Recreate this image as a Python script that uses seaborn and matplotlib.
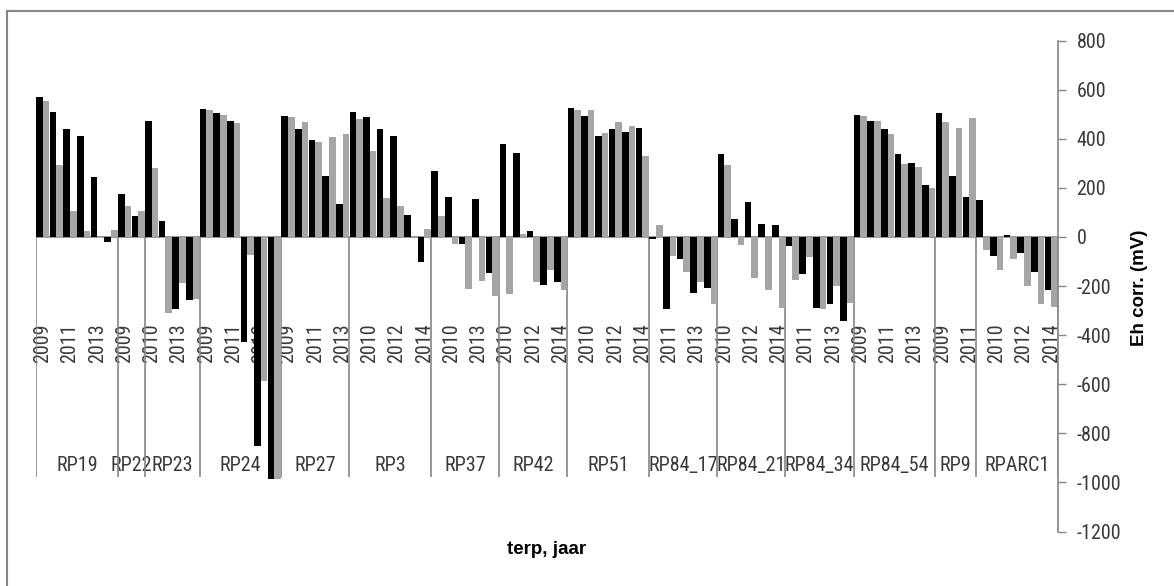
import numpy as np
import pandas as pd
import matplotlib
matplotlib.use("Agg")
import matplotlib.pyplot as plt
from matplotlib import font_manager
from matplotlib.patches import Rectangle
import seaborn as sns

# ---------------- data ----------------
cat_group = (["RP19"] * 6 + ["RP22"] * 2 + ["RP23"] * 4 + ["RP24"] * 6 + ["RP27"] * 5 +
             ["RP3"] * 6 + ["RP37"] * 5 + ["RP42"] * 5 + ["RP51"] * 6 + ["RP84_17"] * 5 +
             ["RP84_21"] * 5 + ["RP84_34"] * 5 + ["RP84_54"] * 6 + ["RP9"] * 3 + ["RPARC1"] * 6)

cat_year = [2009, 2010, 2011, 2012, 2013, 2014,
            2009, 2010,
            2010, 2012, 2013, 2014,
            2009, 2010, 2011, 2012, 2013, 2014,
            2009, 2010, 2011, 2012, 2013,
            2009, 2010, 2011, 2012, 2013, 2014,
            2009, 2010, 2012, 2013, 2014,
            2010, 2011, 2012, 2013, 2014,
            2009, 2010, 2011, 2012, 2013, 2014,
            2010, 2011, 2012, 2013, 2014,
            2010, 2011, 2012, 2013, 2014,
            2010, 2011, 2012, 2013, 2014,
            2009, 2010, 2011, 2012, 2013, 2014,
            2009, 2010, 2011,
            2009, 2010, 2011, 2012, 2013, 2014]

eh_black = [570, 509, 440, 410, 244, -22,
            175, 84,
            471, 63, -293, -255,
            519, 504, 474, -429, -852, -985,
            494, 438, 394, 249, 135,
            509, 489, 438, 410, 91, -102,
            267, 164, -30, 153, -147,
            379, 343, 23, -197, -185,
            526, 494, 410, 438, 427, 442,
            -7, -293, -92, -228, -207,
            336, 74, 143, 54, 49,
            -38, -153, -289, -273, -341,
            498, 472, 438, 336, 300, 211,
            505, 249, 164,
            150, -78, 8, -64, -145, -218]

eh_gray = [555, 291, 107, 23, -5, 29,
           125, 107,
           281, -310, -187, -252,
           515, 498, 463, -72, -588, -985,
           487, 468, 388, 405, 421,
           481, 349, 160, 124, np.nan, 34,
           87, -27, -211, -179, -242,
           -231, 12, -185, -133, -215,
           515, 515, 425, 468, 450, 329,
           50, -76, -144, -185, -275,
           291, -34, -169, -217, -289,
           -174, -81, -293, -201, -269,
           493, 472, 421, 295, 286, 201,
           467, 442, 483,
           -54, -134, -89, -201, -273, -284]

y_ticks = [800, 600, 400, 200, 0, -200, -400, -600, -800, -1000, -1200]
y_tick_labels = ["800", "600", "400", "200", "0", "-200", "-400", "-600", "-800", "-1000", "-1200"]
series_names = ["zwart", "grijs"]
series_colors = ["#000000", "#A6A6A6"]

# ---------------- style ----------------
sns.set_style("white")
available = {f.name for f in font_manager.fontManager.ttflist}
narrow = "DejaVu Sans"
for cand in ["Liberation Sans Narrow", "Roboto Condensed", "Open Sans Condensed"]:
    if cand in available:
        narrow = cand
        break
plt.rcParams["font.family"] = [narrow, "DejaVu Sans"]
bold_family = ["Liberation Sans", "DejaVu Sans"]
grey_line = "#868686"
text_col = "#3a3a3a"

keys = [f"{g}|{y}|{i}" for i, (g, y) in enumerate(zip(cat_group, cat_year))]
df = pd.DataFrame({
    "key": keys * 2,
    "series": [series_names[0]] * len(keys) + [series_names[1]] * len(keys),
    "value": list(eh_black) + list(eh_gray),
})

W, H = 1174, 586
fig = plt.figure(figsize=(W / 100, H / 100), dpi=100)
ax = fig.add_axes([36 / W, 54.5 / H, 1022 / W, 491 / H])

sns.barplot(data=df, x="key", y="value", hue="series", order=keys,
            hue_order=series_names, palette=series_colors, width=0.97,
            saturation=1, errorbar=None, legend=False, ax=ax, zorder=2,
            linewidth=0)

n = len(keys)
ax.set_xlim(-0.5, n - 0.5)
ax.set_ylim(-1200, 800)
ax.set_xticks([])
ax.set_xlabel("")
ax.set_ylabel("")

# right value axis
for s in ["left", "top", "bottom"]:
    ax.spines[s].set_visible(False)
ax.spines["right"].set_color(grey_line)
ax.spines["right"].set_linewidth(1.2)
ax.yaxis.tick_right()
ax.set_yticks(y_ticks)
ax.set_yticklabels(y_tick_labels)
ax.tick_params(axis="y", right=True, left=False, direction="out", length=5.4,
               width=1.0, color=grey_line, pad=8, labelsize=14.5, labelcolor=text_col)

# category axis line at zero
ax.axhline(0, color=grey_line, lw=1.2, zorder=1.5)

# group dividers and labels
starts = [0] + [i for i in range(1, n) if cat_group[i] != cat_group[i - 1]]
bounds = starts + [n]
ax.vlines([b - 0.5 for b in bounds], -980, 0, color=grey_line, lw=1.2, zorder=1.5)
for a, b in zip(bounds[:-1], bounds[1:]):
    ax.text((a + b - 1) / 2, -931, cat_group[a], ha="center", va="center",
            fontsize=14.5, color=text_col, zorder=1)

# year labels (every second category)
for i in range(0, n, 2):
    ax.text(i, -434, str(cat_year[i]), rotation=90, ha="center", va="center",
            fontsize=14.5, color=text_col, zorder=1)

# axis titles
fig.text(547 / W, 1 - 549 / H, "terp, jaar", ha="center", va="center",
         fontsize=13.5, fontweight="bold", family=bold_family, color="#000000")
fig.text(1140 / W, 1 - 288 / H, "Eh corr. (mV)", ha="center", va="center",
         rotation=90, fontsize=13.5, fontweight="bold", family=bold_family, color="#000000")

# chart border (right and bottom edges fall outside the picture)
fig.add_artist(Rectangle((7 / W, -10 / H), (W + 20) / W, (586 - 11 + 10) / H,
                         transform=fig.transFigure, fill=False,
                         edgecolor=grey_line, lw=1.5))

fig.savefig("out.png", dpi=100)
